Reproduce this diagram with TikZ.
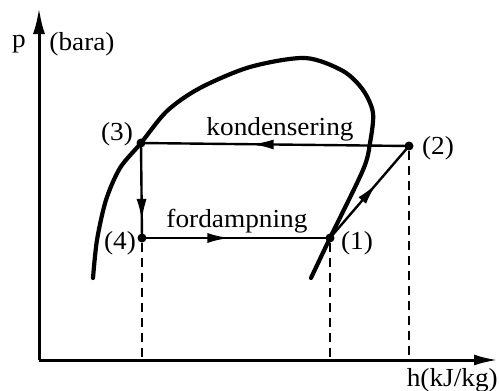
\documentclass[tikz,border=0pt]{standalone}
\usepackage{fontspec}
\setmainfont{Liberation Serif}[FakeStretch=1.05]
\usetikzlibrary{arrows.meta,decorations.markings}
\begin{document}
\begin{tikzpicture}[x=1pt,y=-1pt,
  axis/.style={line width=3pt},
  dome/.style={line width=4.2pt, line cap=round, line join=round},
  proc/.style={line width=2.4pt},
  guide/.style={line width=1.8pt, dash pattern=on 9pt off 6pt},
  dot/.style={circle, fill, inner sep=0pt, minimum size=9pt},
  lbl/.style={font=\fontsize{26}{30}\selectfont, inner sep=0pt},
  midarrow/.style={postaction={decorate, decoration={markings, mark=at position #1 with {\arrow{Latex[length=22pt,width=10pt]}}}}}
]
\useasboundingbox (0,0) rectangle (499,391);
% axes
\coordinate (O) at (39,360);
\coordinate (ytop) at (39,8);
\coordinate (xend) at (498,360);
\draw[axis, -{Latex[length=26pt,width=12pt]}] (O) -- (ytop);
\draw[axis, -{Latex[length=24pt,width=11pt]}] (O) -- (xend);
% saturation dome
\draw[dome] plot[smooth, tension=0.5] coordinates {(93,278) (97,240) (106,200) (120,168) (141,143) (167,111) (200,88) (250,67) (305,58) (343,71) (363,90) (373,113) (370,143) (363,170) (330,238) (311,278)};
% state points
\node[dot] (n1) at (330,238) {};
\node[dot] (n2) at (409,146) {};
\node[dot] (n3) at (141,143) {};
\node[dot] (n4) at (142,238) {};
% guides
\draw[guide] (n4) -- (n4 |- O);
\draw[guide] (n1) -- (n1 |- O);
\draw[guide] (n2) -- (n2 |- O);
% process lines
\draw[proc, midarrow=0.587] (n2.center) -- (n3.center);
\draw[proc, midarrow=0.82] (n3.center) -- (n4.center);
\draw[proc, midarrow=0.465] (n4.center) -- (n1.center);
\draw[proc, midarrow=0.59] (n1.center) -- (n2.center);
% labels
\node[lbl] (lp) at (19,44) {p};
\node[lbl] (lbara) at (82,44) {(bara)};
\node[lbl, anchor=base] (lkond) at (280,135) {kondensering};
\node[lbl, anchor=base] (lford) at (237,227) {fordampning};
\node[lbl] (l3) at (117,134) {(3)};
\node[lbl] (l2) at (438,148) {(2)};
\node[lbl] (l4) at (120,243) {(4)};
\node[lbl] (l1) at (357,243) {(1)};
\node[lbl, anchor=base east] (lh) at (498,386) {h(kJ/kg)};
\end{tikzpicture}
\end{document}
